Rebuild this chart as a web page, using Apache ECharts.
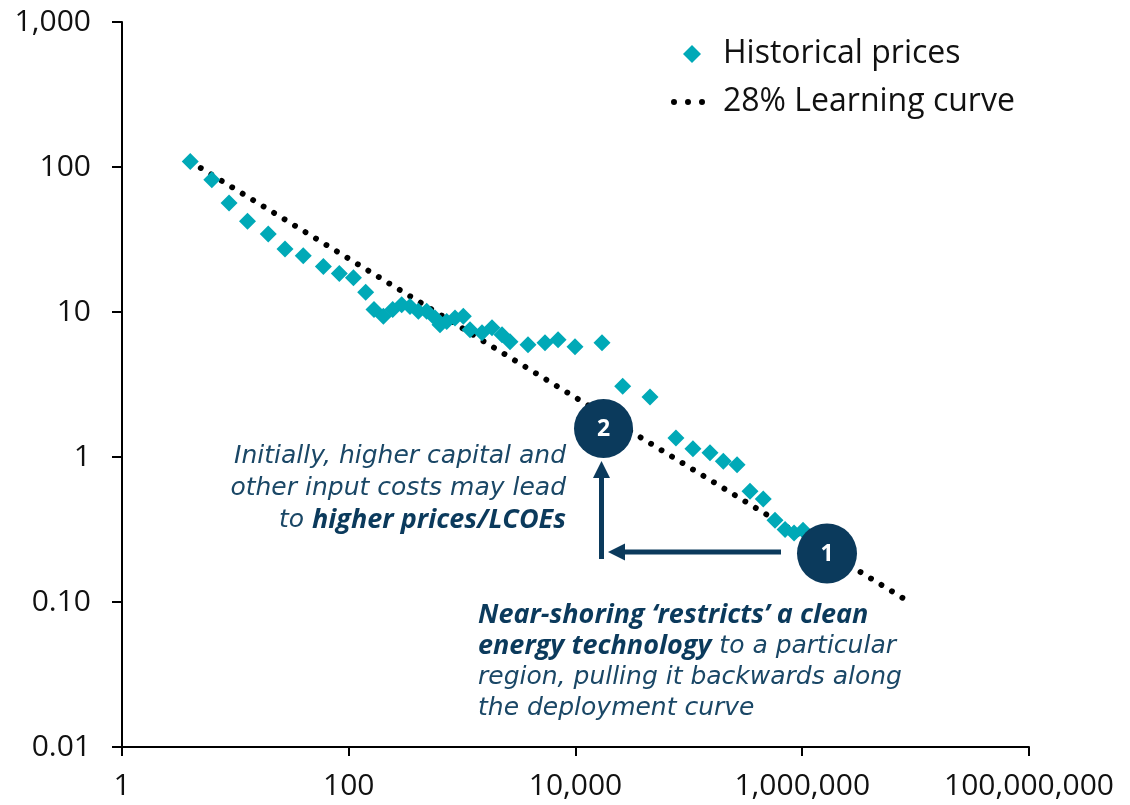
<!DOCTYPE html>
<html>
<head>
<meta charset="utf-8">
<title>Learning curve</title>
<script src="https://cdn.jsdelivr.net/npm/echarts@6/dist/echarts.min.js"></script>
<style>
  html, body { margin: 0; padding: 0; background: #fff; }
  #chart { width: 1130px; height: 805px; }
</style>
</head>
<body>
<div id="chart"></div>
<script>
// cumulative deployment (x) and price (y)
var deployment = [4, 6.2, 8.8, 12.8, 19.5, 27.4, 39.7, 59.7, 82.6, 110, 141, 167, 202, 244, 293, 347, 411, 487,
  577, 638, 731, 865, 1024, 1173, 1497, 1834, 2249, 2645, 3810, 5383, 7015, 9900, 17140, 26070, 45400,
  76900, 108600, 153500, 201200, 266000, 346000, 453000, 575000, 705000, 847000, 1016000]
var prices = [109, 81.7, 56.5, 42.2, 34.5, 27.2, 24.4, 20.6, 18.4, 17.2, 13.7, 10.4, 9.33, 10.4, 11.2, 10.9, 10.1, 10.1,
  9.1, 8.17, 8.61, 9.1, 9.33, 7.55, 7.2, 7.8, 6.97, 6.24, 5.95, 6.14, 6.44, 5.76, 6.14, 3.07, 2.59,
  1.35, 1.14, 1.07, 0.933, 0.885, 0.58, 0.513, 0.366, 0.316, 0.299, 0.312]
// 28% learning curve, start and end
var curveX = [4, 7.8e6]
var curveY = [109, 0.106]

var teal = '#00A9B7'
var navy = '#0B3A5C'
var noteBlue = '#1A4766'
var font = 'Open Sans'
var noteFont = 'DejaVu Sans'

var historical = deployment.map(function (x, i) { return [x, prices[i]] })
var curve = curveX.map(function (x, i) { return [x, curveY[i]] })

// three dots for the learning curve legend
var dotsIcon = 'path://M0,3a3,3 0 1,0 6,0a3,3 0 1,0 -6,0zM14,3a3,3 0 1,0 6,0a3,3 0 1,0 -6,0zM28,3a3,3 0 1,0 6,0a3,3 0 1,0 -6,0z'

var chart = echarts.init(document.getElementById('chart'))

var legendText = { fontSize: 32, lineHeight: 36, color: '#111', fontFamily: font }

var option = {
  animation: false,
  textStyle: { fontFamily: font },
  grid: { left: 122, right: 101, top: 22, bottom: 58, containLabel: false },
  legend: [
    {
      left: 678,
      top: 31,
      itemWidth: 18,
      itemHeight: 18,
      textStyle: Object.assign({ padding: [0, 0, 0, 17] }, legendText),
      data: [{ name: 'Historical prices', icon: 'diamond' }]
    },
    {
      left: 666,
      top: 79,
      itemWidth: 34,
      itemHeight: 6,
      itemStyle: { color: '#000' },
      textStyle: Object.assign({ padding: [0, 0, 0, 13] }, legendText),
      data: [{ name: '28% Learning curve', icon: dotsIcon }]
    }
  ],
  xAxis: {
    type: 'log',
    logBase: 100,
    min: 1,
    max: 1e8,
    axisLine: { show: true, lineStyle: { color: '#000', width: 2 } },
    axisTick: { show: true, length: 9, lineStyle: { color: '#000', width: 2 } },
    splitLine: { show: false },
    minorTick: { show: false },
    axisLabel: {
      margin: 24,
      fontSize: 30,
      color: '#111',
      fontFamily: font,
      formatter: function (v) { return Math.round(v).toLocaleString('en-US') }
    }
  },
  yAxis: {
    type: 'log',
    logBase: 10,
    min: 0.01,
    max: 1000,
    axisLine: { show: true, lineStyle: { color: '#000', width: 2 } },
    axisTick: { show: true, length: 10, lineStyle: { color: '#000', width: 2 } },
    splitLine: { show: false },
    axisLabel: {
      margin: 31,
      fontSize: 30,
      color: '#111',
      fontFamily: font,
      formatter: function (v) {
        if (v < 1) return v.toFixed(2)
        return Math.round(v).toLocaleString('en-US')
      }
    }
  },
  series: [
    {
      name: 'Historical prices',
      type: 'scatter',
      symbol: 'diamond',
      symbolSize: 17,
      itemStyle: { color: teal, opacity: 1 },
      z: 3,
      data: historical
    },
    {
      name: '28% Learning curve',
      type: 'line',
      symbol: 'none',
      lineStyle: { color: '#000', width: 5.8, type: [0.1, 12.18], cap: 'round' },
      itemStyle: { color: '#000' },
      z: 2,
      data: curve
    }
  ],
  graphic: [
    // arrows
    { type: 'line', z: 50, shape: { x1: 781, y1: 552, x2: 622, y2: 552 }, style: { stroke: navy, lineWidth: 5 } },
    { type: 'polygon', z: 50, shape: { points: [[608, 552], [625, 543.5], [625, 560.5]] }, style: { fill: navy } },
    { type: 'line', z: 50, shape: { x1: 601.5, y1: 559, x2: 601.5, y2: 474 }, style: { stroke: navy, lineWidth: 5 } },
    { type: 'polygon', z: 50, shape: { points: [[601.5, 461], [593, 478], [610, 478]] }, style: { fill: navy } },
    // numbered circles
    { type: 'circle', z: 60, shape: { cx: 603.5, cy: 428.5, r: 29.5 }, style: { fill: navy } },
    { type: 'text', z: 61, x: 603.5, y: 429, style: { text: '2', fill: '#fff', font: 'bold 23px "Open Sans"', align: 'center', verticalAlign: 'middle' } },
    { type: 'circle', z: 60, shape: { cx: 827, cy: 553.5, r: 30 }, style: { fill: navy } },
    { type: 'text', z: 61, x: 827, y: 554, style: { text: '1', fill: '#fff', font: 'bold 23px "Open Sans"', align: 'center', verticalAlign: 'middle' } },
    // notes
    {
      type: 'text', z: 40, x: 566, y: 440,
      style: {
        align: 'right',
        verticalAlign: 'top',
        text: '{i|Initially, higher capital and}\n{i|other input costs may lead}\n{i|to }{b|higher prices/LCOEs}',
        rich: {
          i: { fontFamily: noteFont, fontStyle: 'italic', fontSize: 25, lineHeight: 32, fill: noteBlue, color: noteBlue },
          b: { fontFamily: font, fontStyle: 'italic', fontWeight: 'bold', fontSize: 27, lineHeight: 32, fill: navy, color: navy }
        }
      }
    },
    {
      type: 'text', z: 40, x: 478, y: 600,
      style: {
        align: 'left',
        verticalAlign: 'top',
        text: '{b|Near-shoring \u2018restricts\u2019 a clean}\n{b|energy technology}{i| to a particular}\n{i|region, pulling it backwards along}\n{i|the deployment curve}',
        rich: {
          i: { fontFamily: noteFont, fontStyle: 'italic', fontSize: 25, lineHeight: 31, fill: noteBlue, color: noteBlue },
          b: { fontFamily: font, fontStyle: 'italic', fontWeight: 'bold', fontSize: 27, lineHeight: 31, fill: navy, color: navy }
        }
      }
    }
  ]
}

chart.setOption(option)
window.addEventListener('resize', chart.resize)
</script>
</body>
</html>
